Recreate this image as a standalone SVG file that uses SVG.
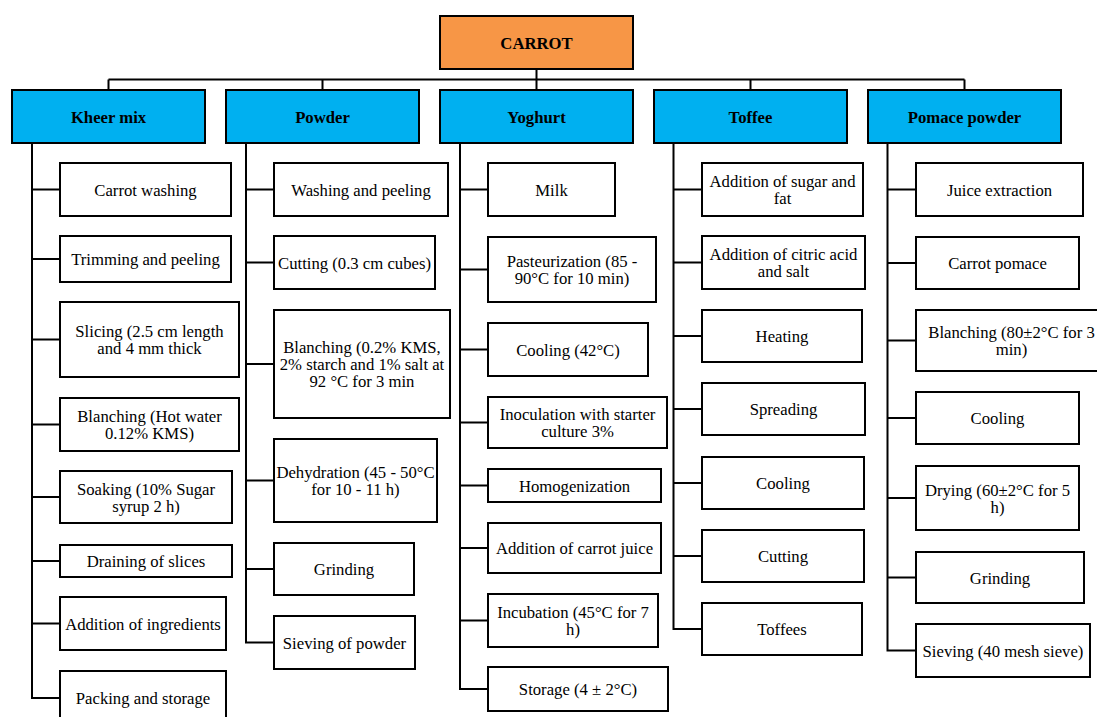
<svg xmlns="http://www.w3.org/2000/svg" width="1097" height="717" viewBox="0 0 1097 717" font-family="'Liberation Serif', 'Times New Roman', Tinos, 'DejaVu Serif', serif">
<style>
  .box{fill:#ffffff;stroke:#000000;stroke-width:2}
  .root{fill:#F79646;stroke:#000000;stroke-width:2}
  .hdr{fill:#00B0F0;stroke:#000000;stroke-width:2}
  text{font-family:'Liberation Serif', 'Times New Roman', Tinos, 'DejaVu Serif', serif;font-size:16.7px;fill:#000;text-anchor:middle}
  .b{font-weight:bold}
  .conn{fill:none;stroke:#000000;stroke-width:2}
</style>
<rect width="1097" height="717" fill="#ffffff"/>
<g id="connectors" class="conn">
  <path d="M536.5,69 V79.5 M108.5,79.5 H964.5 M108.5,79.5 V90 M322.5,79.5 V90 M536.5,79.5 V90 M750.5,79.5 V90 M964.5,79.5 V90"/>
  <path d="M32,143 V698 H60 M32,189.5 H60 M32,259 H60 M32,339.5 H60 M32,424.5 H60 M32,497 H60 M32,561 H60 M32,623.5 H60"/>
  <path d="M246,143 V642.5 H274 M246,189.5 H274 M246,262.5 H274 M246,364 H274 M246,480.5 H274 M246,569 H274"/>
  <path d="M460,143 V689 H488 M460,189.5 H488 M460,269.5 H488 M460,349.5 H488 M460,422.5 H488 M460,485.5 H488 M460,548 H488 M460,620.5 H488"/>
  <path d="M673.5,143 V629 H702 M673.5,189.5 H702 M673.5,262.5 H702 M673.5,336 H702 M673.5,409 H702 M673.5,483 H702 M673.5,556 H702"/>
  <path d="M887.5,143 V650.5 H916 M887.5,189.5 H916 M887.5,263 H916 M887.5,340.5 H916 M887.5,418 H916 M887.5,498 H916 M887.5,577.5 H916"/>
</g>
<g id="carrot"><rect class="root" x="440" y="16" width="193" height="53"/><text class="b" x="536.5" y="48.5">CARROT</text></g>
<g id="kheer-mix"><rect class="hdr" x="12" y="90" width="193" height="53"/><text class="b" x="108.5" y="122.5">Kheer mix</text></g>
<g id="powder"><rect class="hdr" x="226" y="90" width="193" height="53"/><text class="b" x="322.5" y="122.5">Powder</text></g>
<g id="yoghurt"><rect class="hdr" x="440" y="90" width="193" height="53"/><text class="b" x="536.5" y="122.5">Yoghurt</text></g>
<g id="toffee"><rect class="hdr" x="654" y="90" width="193" height="53"/><text class="b" x="750.5" y="122.5">Toffee</text></g>
<g id="pomace-powder"><rect class="hdr" x="868" y="90" width="193" height="53"/><text class="b" x="964.5" y="122.5">Pomace powder</text></g>

<g id="k1"><rect class="box" x="60" y="163" width="171" height="53"/><text x="145.5" y="195.5">Carrot washing</text></g>
<g id="k2"><rect class="box" x="60" y="236" width="171" height="46"/><text x="145.5" y="265">Trimming and peeling</text></g>
<g id="k3"><rect class="box" x="60" y="302" width="179" height="75"/><text x="149.5" y="337">Slicing (2.5 cm length</text><text x="149.5" y="354">and 4 mm thick</text></g>
<g id="k4"><rect class="box" x="60" y="398" width="179" height="53"/><text x="149.5" y="422">Blanching (Hot water</text><text x="149.5" y="439">0.12% KMS)</text></g>
<g id="k5"><rect class="box" x="60" y="471" width="172" height="52"/><text x="146" y="494.5">Soaking (10% Sugar</text><text x="146" y="511.5">syrup 2 h)</text></g>
<g id="k6"><rect class="box" x="60" y="545" width="172" height="32"/><text x="146" y="567">Draining of slices</text></g>
<g id="k7"><rect class="box" x="60" y="597" width="166" height="53"/><text x="143" y="629.5">Addition of ingredients</text></g>
<g id="k8"><rect class="box" x="60" y="671" width="166" height="54"/><text x="143" y="704">Packing and storage</text></g>

<g id="p1"><rect class="box" x="274" y="163" width="174" height="53"/><text x="361" y="195.5">Washing and peeling</text></g>
<g id="p2"><rect class="box" x="274" y="236" width="161" height="53"/><text x="354.5" y="268.5">Cutting (0.3 cm cubes)</text></g>
<g id="p3"><rect class="box" x="274" y="310" width="176" height="108"/><text x="362" y="353">Blanching (0.2% KMS,</text><text x="362" y="370">2% starch and 1% salt at</text><text x="362" y="387">92 °C for 3 min</text></g>
<g id="p4"><rect class="box" x="274" y="439" width="163" height="83"/><text x="355.5" y="478">Dehydration (45 - 50°C</text><text x="355.5" y="495">for 10 - 11 h)</text></g>
<g id="p5"><rect class="box" x="274" y="543" width="140" height="52"/><text x="344" y="575">Grinding</text></g>
<g id="p6"><rect class="box" x="274" y="616" width="141" height="53"/><text x="344.5" y="648.5">Sieving of powder</text></g>

<g id="y1"><rect class="box" x="488" y="163" width="127" height="53"/><text x="551.5" y="195.5">Milk</text></g>
<g id="y2"><rect class="box" x="488" y="237" width="168" height="65"/><text x="572" y="267">Pasteurization (85 -</text><text x="572" y="284">90°C for 10 min)</text></g>
<g id="y3"><rect class="box" x="488" y="323" width="160" height="53"/><text x="568" y="355.5">Cooling (42°C)</text></g>
<g id="y4"><rect class="box" x="488" y="397" width="179" height="51"/><text x="577.5" y="420">Inoculation with starter</text><text x="577.5" y="437">culture 3%</text></g>
<g id="y5"><rect class="box" x="488" y="469" width="173" height="33"/><text x="574.5" y="491.5">Homogenization</text></g>
<g id="y6"><rect class="box" x="488" y="523" width="173" height="50"/><text x="574.5" y="554">Addition of carrot juice</text></g>
<g id="y7"><rect class="box" x="488" y="594" width="170" height="53"/><text x="573" y="618">Incubation (45°C for 7</text><text x="573" y="635">h)</text></g>
<g id="y8"><rect class="box" x="488" y="667" width="180" height="44"/><text x="578" y="695">Storage (4 ± 2°C)</text></g>

<g id="t1"><rect class="box" x="702" y="163" width="161" height="53"/><text x="782.5" y="187">Addition of sugar and</text><text x="782.5" y="204">fat</text></g>
<g id="t2"><rect class="box" x="702" y="236" width="163" height="53"/><text x="783.5" y="260">Addition of citric acid</text><text x="783.5" y="277">and salt</text></g>
<g id="t3"><rect class="box" x="702" y="310" width="160" height="52"/><text x="782" y="342">Heating</text></g>
<g id="t4"><rect class="box" x="702" y="383" width="163" height="52"/><text x="783.5" y="415">Spreading</text></g>
<g id="t5"><rect class="box" x="702" y="457" width="162" height="52"/><text x="783" y="489">Cooling</text></g>
<g id="t6"><rect class="box" x="702" y="530" width="162" height="52"/><text x="783" y="562">Cutting</text></g>
<g id="t7"><rect class="box" x="702" y="603" width="160" height="52"/><text x="782" y="635">Toffees</text></g>

<g id="m1"><rect class="box" x="916" y="163" width="167" height="53"/><text x="999.5" y="195.5">Juice extraction</text></g>
<g id="m2"><rect class="box" x="916" y="237" width="163" height="52"/><text x="997.5" y="269">Carrot pomace</text></g>
<g id="m3"><rect class="box" x="916" y="310" width="191" height="61"/><text x="1011.5" y="338">Blanching (80±2°C for 3</text><text x="1011.5" y="355">min)</text></g>
<g id="m4"><rect class="box" x="916" y="392" width="163" height="52"/><text x="997.5" y="424">Cooling</text></g>
<g id="m5"><rect class="box" x="916" y="466" width="163" height="64"/><text x="997.5" y="495.5">Drying (60±2°C for 5</text><text x="997.5" y="512.5">h)</text></g>
<g id="m6"><rect class="box" x="916" y="552" width="168" height="51"/><text x="1000" y="583.5">Grinding</text></g>
<g id="m7"><rect class="box" x="916" y="624" width="174" height="53"/><text x="1003" y="656.5">Sieving (40 mesh sieve)</text></g>
</svg>
